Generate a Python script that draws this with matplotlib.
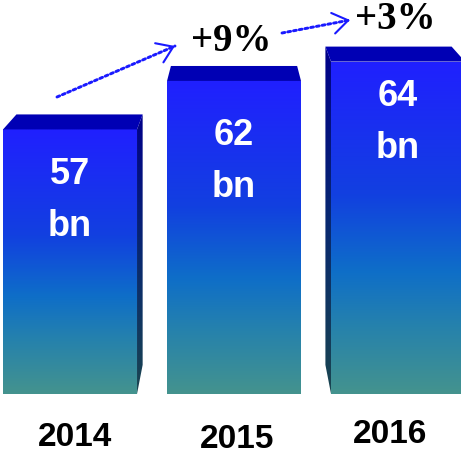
import matplotlib

matplotlib.use("Agg")

import matplotlib.pyplot as plt
import numpy as np
from matplotlib.colors import LinearSegmentedColormap
from matplotlib.patches import Polygon

# ========================
# data
# ========================
years = ["2014", "2015", "2016"]
values = [57, 62, 64]
value_labels = ["57\nbn", "62\nbn", "64\nbn"]
growth_labels = ["+9%", "+3%"]

# ========================
# layout / style
# ========================
W, H, DPI = 461, 456, 100
BASE = 29.7          # value where the bars stand
YLIM = (23.4, 70.46)
XLIM = (-0.427, 2.384)
BAR_W = 0.817
PX = (XLIM[1] - XLIM[0]) / W     # data units per pixel, x
PY = (YLIM[1] - YLIM[0]) / H     # data units per pixel, y
DEPTH = 15 * PY      # height of the top face
PERSP = 0.058        # how far the back edge moves to the vanishing point
VANISH_X = 1.0
LABEL_DROP = [44, 54, 34]   # px below the bar top, centre of first line
LINE_GAP = 52               # px between "57" and "bn"
YEAR_NUDGE = [(5, 43), (3, 45), (-8, 40)]   # px right / px below base

front_cmap = LinearSegmentedColormap.from_list(
    "front",
    [(0.0, "#2020ff"), (0.4, "#1240e0"), (0.63, "#0e6ec8"),
     (0.8, "#2682ac"), (1.0, "#44938e")],
)
side_cmap = LinearSegmentedColormap.from_list(
    "side", [(0.0, "#00008a"), (0.5, "#082870"), (1.0, "#1a4550")]
)
TOP_COLOR = "#0000b4"
ARROW_COLOR = "#1a1aff"


def gradient_fill(ax, poly, cmap, x0, x1, y0, y1):
    """Vertical gradient (top -> bottom) clipped to a polygon."""
    grad = np.linspace(0, 1, 256).reshape(-1, 1)
    im = ax.imshow(grad, cmap=cmap, aspect="auto", origin="upper",
                   extent=(x0, x1, y0, y1), interpolation="bilinear", zorder=2)
    patch = Polygon(poly, closed=True, facecolor="none", edgecolor="none")
    ax.add_patch(patch)
    im.set_clip_path(patch)


def fig_px(x, y):
    """pixel position measured from the top left -> figure pixels"""
    return (x, H - y)


fig = plt.figure(figsize=(W / DPI, H / DPI), dpi=DPI)
ax = fig.add_axes([0, 0, 1, 1])
ax.set_axis_off()

for i, v in enumerate(values):
    xl, xr = i - BAR_W / 2, i + BAR_W / 2
    bxl = xl + PERSP * (VANISH_X - xl)
    bxr = xr + PERSP * (VANISH_X - xr)
    top_back = v + DEPTH

    # front face
    front = [(xl, BASE), (xl, v), (xr, v), (xr, BASE)]
    gradient_fill(ax, front, front_cmap, xl, xr, BASE, v)

    # side faces (only the one that faces the middle is visible)
    if bxr > xr:
        side = [(xr, v), (bxr, top_back), (bxr, BASE + 3), (xr, BASE)]
        gradient_fill(ax, side, side_cmap, xr, bxr, BASE, top_back)
    if bxl < xl:
        side = [(xl, v), (bxl, top_back), (bxl, BASE + 3), (xl, BASE)]
        gradient_fill(ax, side, side_cmap, bxl, xl, BASE, top_back)

    # top face
    ax.add_patch(Polygon([(xl, v), (bxl, top_back), (bxr, top_back), (xr, v)],
                         closed=True, facecolor=TOP_COLOR, edgecolor="none",
                         zorder=3))

    # value label
    num, unit = value_labels[i].split("\n")
    for k, s in enumerate([num, unit]):
        ax.annotate(s, xy=(i, v), xycoords="data",
                    xytext=(0, -(LABEL_DROP[i] + k * LINE_GAP) * 72 / DPI),
                    textcoords="offset points", ha="center", va="center",
                    color="white", fontsize=26, fontweight="bold",
                    family="Liberation Sans", zorder=5)

    # year label
    nx, ny = YEAR_NUDGE[i]
    ax.text(i + nx * PX, BASE - ny * PY, years[i], ha="center", va="center",
            fontsize=24, fontweight="bold", family="Liberation Sans",
            color="black", zorder=5)

# ========================
# growth arrows
# ========================
arrows = [((57, 98), (175, 47)), ((282, 34), (350, 21))]
text_pos = [(231, 42), (395, 20)]

for (p0, p1), label, tp in zip(arrows, growth_labels, text_pos):
    # dotted shaft
    ax.annotate("", xy=fig_px(*p1), xycoords="figure pixels",
                xytext=fig_px(*p0), textcoords="figure pixels",
                arrowprops=dict(arrowstyle="-", color=ARROW_COLOR, lw=2.1,
                                linestyle=(0, (1, 1)),
                                shrinkA=0, shrinkB=0))
    # open head
    d = np.subtract(p1, p0) / np.hypot(*np.subtract(p1, p0))
    pre = (p1[0] - 3 * d[0], p1[1] - 3 * d[1])
    ax.annotate("", xy=fig_px(*p1), xycoords="figure pixels",
                xytext=fig_px(*pre), textcoords="figure pixels",
                arrowprops=dict(arrowstyle="->,head_length=1.1,head_width=0.75",
                                color=ARROW_COLOR, lw=1.5, mutation_scale=10,
                                shrinkA=0, shrinkB=0))
    ax.text(*fig_px(*tp), label, transform=None, ha="center", va="center",
            fontsize=28, fontweight="bold", family="Liberation Serif",
            color="black")

ax.set_xlim(*XLIM)
ax.set_ylim(*YLIM)

fig.savefig("out.png", dpi=DPI, facecolor="white")
